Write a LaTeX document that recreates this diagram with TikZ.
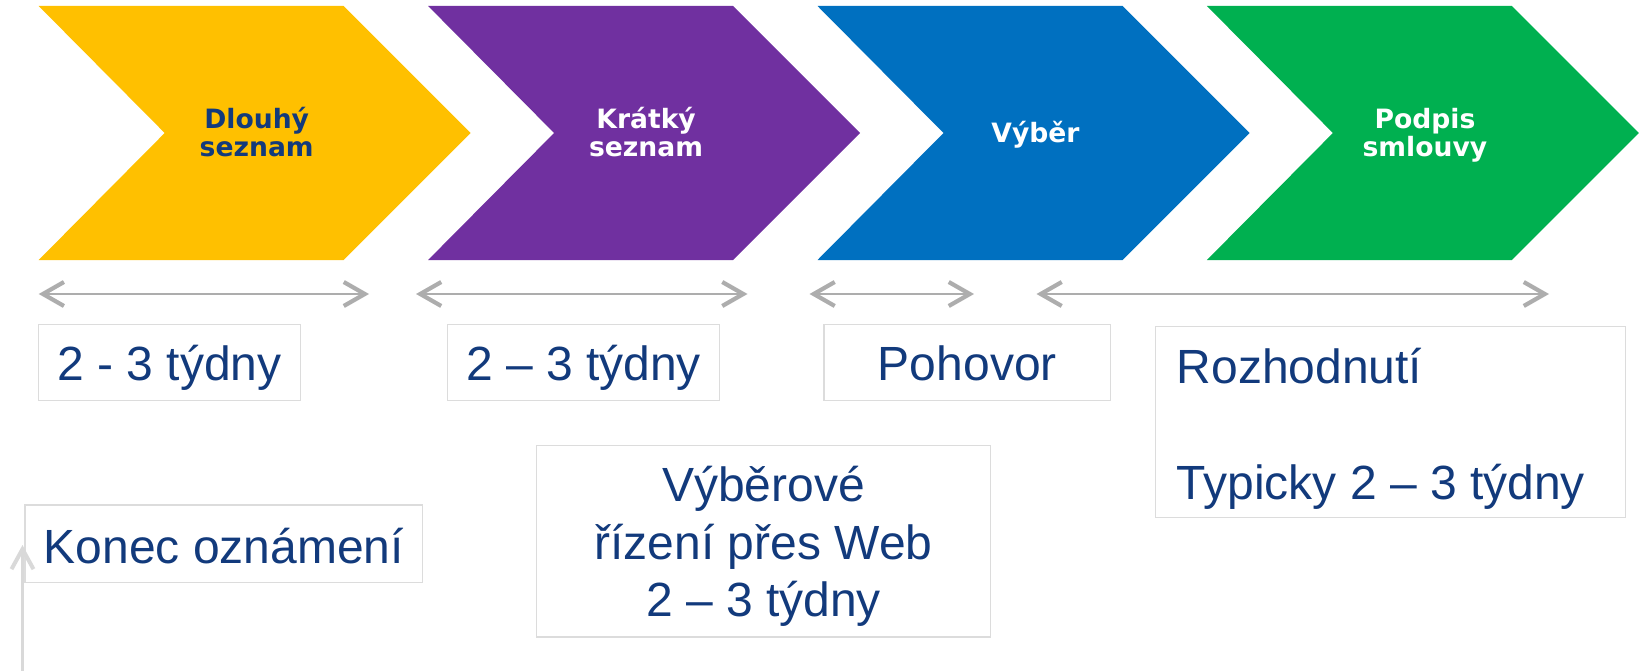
\documentclass[tikz,border=0pt]{standalone}
\usepackage{fontspec}
\setmainfont{Liberation Sans}
\newfontfamily\chevfont{DejaVu Sans}
\usetikzlibrary{arrows.meta,calc}
\definecolor{cyel}{HTML}{FFC000}
\definecolor{cpur}{HTML}{7030A0}
\definecolor{cblu}{HTML}{0070C0}
\definecolor{cgrn}{HTML}{00B050}
\definecolor{navy}{HTML}{123A7C}
\definecolor{arrgray}{HTML}{ADADAD}
\definecolor{boxgray}{HTML}{DCDCDC}
\definecolor{vgray}{HTML}{D9D9D9}
\begin{document}
\begin{tikzpicture}[x=1pt,y=-1pt,
  chevlabel/.style={font=\chevfont\bfseries\fontsize{26.6}{28.4}\selectfont, anchor=base, inner sep=0pt},
  boxframe/.style={draw=boxgray, line width=1.2pt, inner sep=0pt},
  bigtxt/.style={font=\fontsize{48}{57}\selectfont, text=navy, anchor=base, inner sep=0pt},
  barb/.tip={Straight Barb[length=21pt,width=24pt,line width=4.2pt]},
  span/.style={draw=arrgray, line width=2.2pt, barb-barb},
  uparrow/.style={draw=vgray, line width=2.8pt, -{Straight Barb[length=20pt,width=22pt,line width=4pt]}}
]
\useasboundingbox (0,0) rectangle (1640,671);

% chevrons
\foreach \x/\c in {38.7/cyel, 428.1/cpur, 817.5/cblu, 1206.9/cgrn}{
  \fill[\c] (\x,6) -- (\x+305,6) -- (\x+432,133) -- (\x+305,260) -- (\x,260) -- (\x+126,133) -- cycle;
}
\node[chevlabel, text=navy] (c1a) at (256.7,128.3) {Dlouhý};
\node[chevlabel, text=navy] (c1b) at (256.7,156.7) {seznam};
\node[chevlabel, text=white] (c2a) at (646.1,128.3) {Krátký};
\node[chevlabel, text=white] (c2b) at (646.1,156.7) {seznam};
\node[chevlabel, text=white] (c3a) at (1035.5,142.5) {Výběr};
\node[chevlabel, text=white] (c4a) at (1424.9,128.3) {Podpis};
\node[chevlabel, text=white] (c4b) at (1424.9,156.7) {smlouvy};

% span arrows
\coordinate (s1l) at (38.7,294);  \coordinate (s1r) at (369,294);
\coordinate (s2l) at (416,294);   \coordinate (s2r) at (747.5,294);
\coordinate (s3l) at (809.5,294); \coordinate (s3r) at (974,294);
\coordinate (s4l) at (1036.5,294);\coordinate (s4r) at (1549,294);
\draw[span] (s1l) -- (s1r);
\draw[span] (s2l) -- (s2r);
\draw[span] (s3l) -- (s3r);
\draw[span] (s4l) -- (s4r);

% boxes
\node[boxframe, minimum width=261.5pt, minimum height=76.4pt] (b1) at (169.45,362.4) {};
\node[boxframe, minimum width=272pt, minimum height=76.4pt] (b2) at (583.6,362.4) {};
\node[boxframe, minimum width=286.7pt, minimum height=76.4pt] (b3) at (967.35,362.4) {};
\node[boxframe, minimum width=469.6pt, minimum height=191.4pt] (b4) at (1390.5,422) {};
\node[boxframe, minimum width=454pt, minimum height=191.5pt] (b5) at (763.5,541.25) {};
\node[boxframe, minimum width=397.5pt, minimum height=77.6pt] (b6) at (223.75,543.8) {};

\node[bigtxt] (t1) at (169.45,380.7) {2 - 3 týdny};
\node[bigtxt] (t2) at (583.6,380.7) {2 – 3 týdny};
\node[bigtxt] (t3) at (967.35,380.7) {Pohovor};
\node[bigtxt, anchor=base west] (t4a) at (1176.5,383.3) {Rozhodnutí};
\node[bigtxt, anchor=base west] (t4b) at (1176.5,499.3) {Typicky 2 – 3 týdny};
\node[bigtxt] (t5a) at (763.5,501.7) {Výběrové};
\node[bigtxt] (t5b) at (763.5,559.3) {řízení přes Web};
\node[bigtxt] (t5c) at (763.5,616.7) {2 – 3 týdny};
\node[bigtxt] (t6) at (223.75,563.3) {Konec oznámení};

% vertical arrow
\coordinate (vb) at (22.5,671);
\coordinate (vt) at (22.5,545);
\draw[uparrow] (vb) -- (vt);
\end{tikzpicture}
\end{document}
